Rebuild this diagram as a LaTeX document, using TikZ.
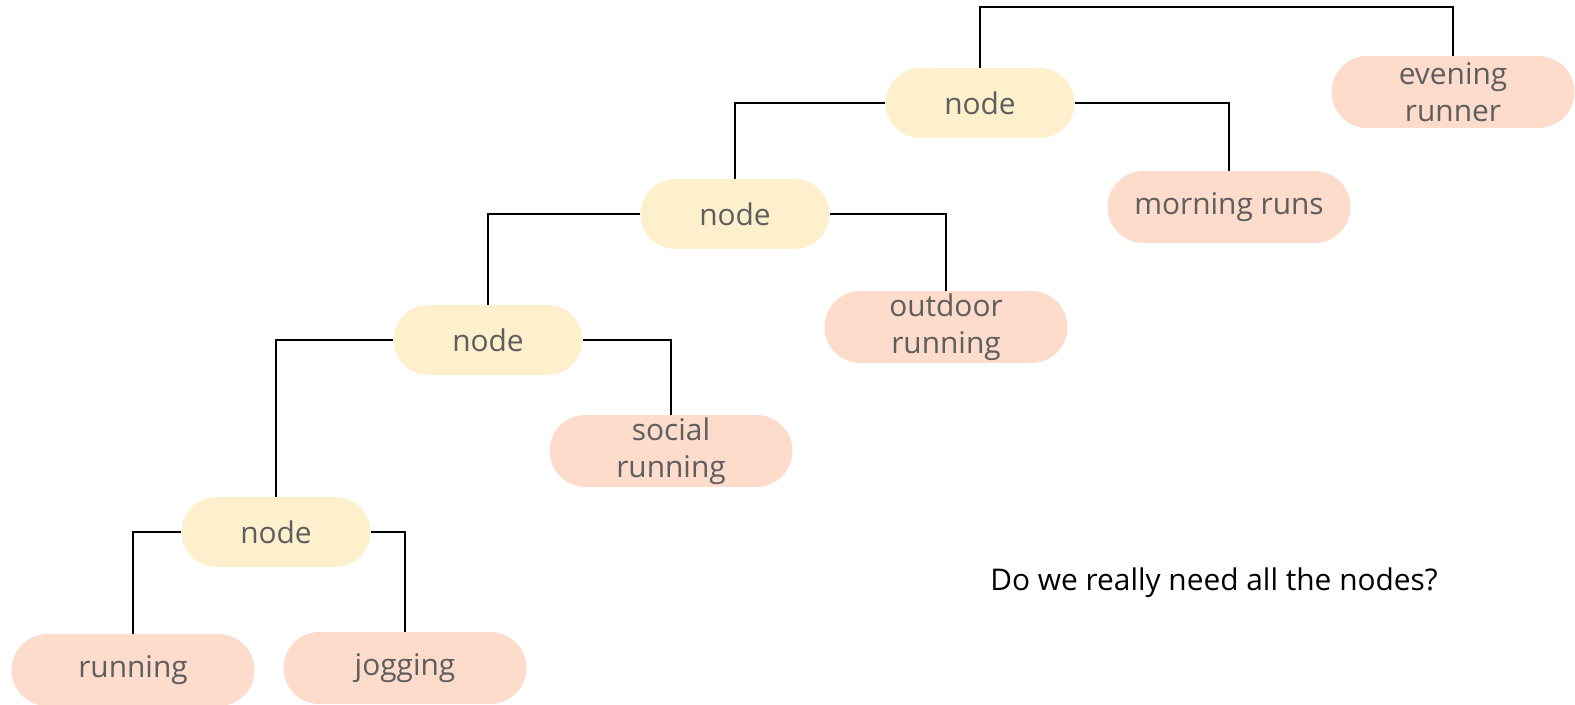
\documentclass[tikz,border=0pt]{standalone}
\usepackage{fontspec}
\setmainfont{Open Sans}
\usepackage{xcolor}
\usepackage{tikz}
\usetikzlibrary{positioning}
\definecolor{splitfill}{HTML}{FEF0CD}
\definecolor{leaffill}{HTML}{FDDCCB}
\definecolor{labelgray}{HTML}{5E5E5E}
\tikzset{
    split/.style={fill=splitfill, rounded corners=0.7cm, minimum width=3.78cm,
        minimum height=1.4cm, text=labelgray, font=\fontsize{17}{21}\selectfont},
    leaf/.style={fill=leaffill, rounded corners=0.72cm, minimum width=4.86cm,
        minimum height=1.44cm, text=labelgray, align=center,
        font=\fontsize{17}{21}\selectfont, inner sep=1pt},
    link/.style={draw=black, line width=1.1pt},
}

\begin{document}
\begin{tikzpicture}[x=0.02cm,y=-0.02cm]
    \useasboundingbox (0,0) rectangle (1575,705);
    % inner nodes
    \node[split] (n1) at (980,103) {node};
    \node[split] (n2) at (735,214) {node};
    \node[split] (n3) at (488,340) {node};
    \node[split] (n4) at (276,532) {node};
    % leaves
    \node[leaf] (evening) at (1453,92) {evening\\runner};
    \node[leaf] (morning) at (1229,207) {morning runs};
    \node[leaf] (outdoor) at (946,327) {outdoor\\running};
    \node[leaf] (social)  at (671,451) {social\\running};
    \node[leaf] (running) at (133,670) {running};
    \node[leaf] (jogging) at (405,668) {jogging};
    % question
    \node[font=\fontsize{17}{21}\selectfont] (question) at (1214,583) {Do we really need all the nodes?};
    % connectors
    \coordinate (topbar) at (980,7);
    \draw[link] (n1.north) -- (topbar) -| (evening.north);
    \draw[link] (n1.east) -| (morning.north);
    \draw[link] (n1.west) -| (n2.north);
    \draw[link] (n2.east) -| (outdoor.north);
    \draw[link] (n2.west) -| (n3.north);
    \draw[link] (n3.east) -| (social.north);
    \draw[link] (n3.west) -| (n4.north);
    \draw[link] (n4.east) -| (jogging.north);
    \draw[link] (n4.west) -| (running.north);
\end{tikzpicture}
\end{document}
